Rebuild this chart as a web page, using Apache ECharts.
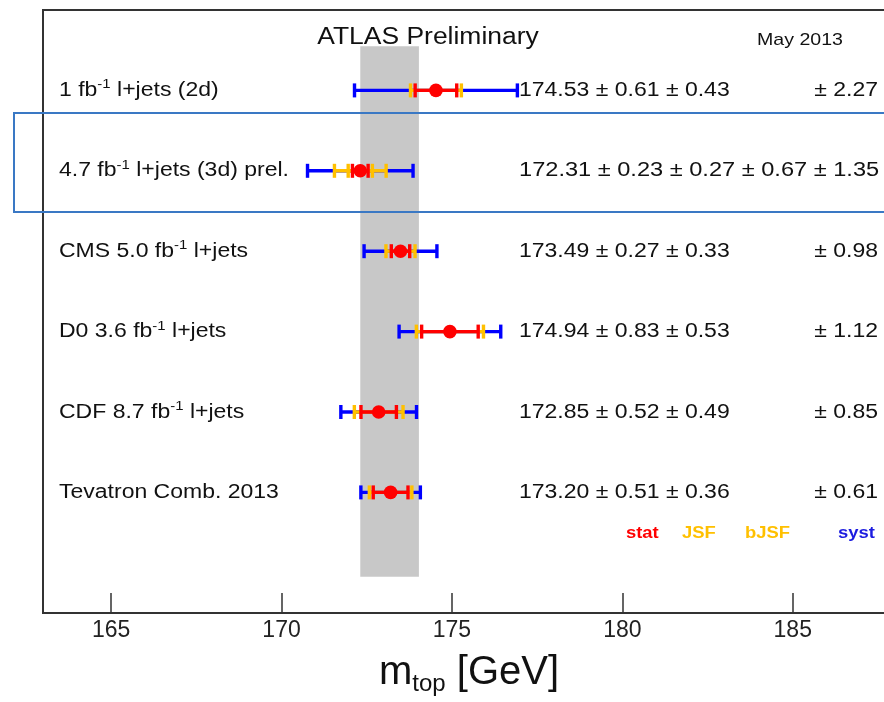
<!DOCTYPE html>
<html><head><meta charset="utf-8">
<script src="https://cdn.jsdelivr.net/npm/echarts@6/dist/echarts.min.js"></script>
<style>html,body{margin:0;padding:0;background:#fff}#c{width:884px;height:702px}</style>
</head><body><div id="c"></div>
<script>
// ---- data ----
const labelPre  = ['1 fb', '4.7 fb', 'CMS 5.0 fb', 'D0 3.6 fb', 'CDF 8.7 fb', 'Tevatron Comb. 2013'];
const labelSup  = ['-1', '-1', '-1', '-1', '-1', ''];
const labelPost = [' l+jets (2d)', ' l+jets (3d) prel.', ' l+jets', ' l+jets', ' l+jets', ''];
const rowPos    = [6.5, 5.5, 4.5, 3.5, 2.5, 1.5];
const mtop      = [174.53, 172.31, 173.49, 174.94, 172.85, 173.20];
const statErr   = [0.61, 0.23, 0.27, 0.83, 0.52, 0.51];
const jsfErr    = [0.43, 0.27, 0.33, 0.53, 0.49, 0.36];
const bjsfErr   = [null, 0.67, null, null, null, null];
const systErr   = [2.27, 1.35, 0.98, 1.12, 0.85, 0.61];
const xTicks    = [165, 170, 175, 180, 185];
const bandX     = [172.31, 174.03];
const bandY     = [0.45, 7.05];
const legendTexts = ['stat', 'JSF', 'bJSF', 'syst'];

const RED = '#ff0000', YEL = '#ffc000', BLUE = '#0000ff';
const FONT = 'Liberation Sans, Arial, sans-serif';
const SX = 1.15;

const chart = echarts.init(document.getElementById('c'), null, {renderer: 'canvas'});

function fmt(v) { return v.toFixed(2); }

function renderRow(params, api) {
  const i = params.dataIndex;
  const c = api.coord([mtop[i], rowPos[i]]);
  const cx = c[0], cy = c[1];
  const unit = api.size([1, 0])[0];
  const s = statErr[i], j = jsfErr[i], b = bjsfErr[i], sy = systErr[i];
  const lv = [{e: s, col: RED}, {e: Math.hypot(s, j), col: YEL}];
  if (b != null) lv.push({e: Math.hypot(s, j, b), col: YEL});
  lv.push({e: Math.hypot(s, j, b || 0, sy), col: BLUE});
  const ch = [];
  const LW = 3.4, CAP = 7;
  for (let k = lv.length - 1; k >= 0; k--) {
    const w = lv[k].e * unit;
    ch.push({type: 'line', shape: {x1: cx - w, y1: cy, x2: cx + w, y2: cy}, style: {stroke: lv[k].col, lineWidth: LW}});
  }
  for (let k = lv.length - 1; k >= 0; k--) {
    const w = lv[k].e * unit;
    [-1, 1].forEach(sg => {
      ch.push({type: 'line', shape: {x1: cx + sg * w, y1: cy - CAP, x2: cx + sg * w, y2: cy + CAP}, style: {stroke: lv[k].col, lineWidth: LW}});
    });
  }
  ch.push({type: 'circle', shape: {cx: cx, cy: cy, r: 6.8}, style: {fill: RED}});
  // label
  let lab = '{a|' + labelPre[i] + '}';
  if (labelSup[i]) lab += '{s|' + labelSup[i] + '}';
  if (labelPost[i]) lab += '{a|' + labelPost[i] + '}';
  ch.push({type: 'text', x: 59, y: cy, scaleX: SX,
    style: {text: lab, x: 0, y: 0, align: 'left', verticalAlign: 'middle', fill: '#111',
      rich: {a: {fontSize: 20, fontFamily: FONT, lineHeight: 24, fill: '#111'},
             s: {fontSize: 13, fontFamily: FONT, lineHeight: 14, verticalAlign: 'top', fill: '#111'}}}});
  // values
  let left = fmt(mtop[i]) + ' \u00b1 ' + fmt(s) + ' \u00b1 ' + fmt(j);
  let right = '';
  if (b != null) left += ' \u00b1 ' + fmt(b) + ' \u00b1 ' + fmt(sy);
  else right = '\u00b1 ' + fmt(sy);
  ch.push({type: 'text', x: 519, y: cy, scaleX: (b != null) ? 1.18 : SX,
    style: {text: left, x: 0, y: 0, align: 'left', verticalAlign: 'middle', fill: '#111', fontSize: 20, fontFamily: FONT}});
  if (right) ch.push({type: 'text', x: 878, y: cy, scaleX: SX,
    style: {text: right, x: 0, y: 0, align: 'right', verticalAlign: 'middle', fill: '#111', fontSize: 20, fontFamily: FONT}});
  return {type: 'group', children: ch};
}

function renderBand(params, api) {
  const p1 = api.coord([bandX[0], bandY[1]]);
  const p2 = api.coord([bandX[1], bandY[0]]);
  return {type: 'rect', shape: {x: p1[0], y: p1[1], width: p2[0] - p1[0], height: p2[1] - p1[1]}, style: {fill: '#c8c8c8'}};
}

const legendX = [626, 682, 745, 838];
const legendCol = [RED, YEL, YEL, '#1c1ce0'];

const option = {
  animation: false,
  backgroundColor: '#fff',
  grid: {left: 43, top: 10, right: -11, bottom: 89, show: true, borderColor: '#333', borderWidth: 2,
         containLabel: false, outerBoundsMode: 'none'},
  xAxis: {
    type: 'value', min: 163, max: 188,
    axisLine: {show: true, lineStyle: {color: '#333', width: 2}},
    axisTick: {show: true, inside: true, length: 20, customValues: xTicks, lineStyle: {color: '#333', width: 1.5}},
    axisLabel: {show: true, customValues: xTicks, fontSize: 23, fontFamily: FONT, color: '#222', margin: 6},
    splitLine: {show: false},
    name: '{m|m}{s|top}{m| [GeV]}',
    nameLocation: 'middle', nameGap: 37,
    nameTextStyle: {rich: {
      m: {fontSize: 40, fontFamily: FONT, color: '#111', lineHeight: 46},
      s: {fontSize: 24, fontFamily: FONT, color: '#111', lineHeight: 1, verticalAlign: 'bottom'}
    }}
  },
  yAxis: {
    type: 'value', min: 0, max: 7.5,
    axisLine: {show: true, lineStyle: {color: '#333', width: 2}},
    axisTick: {show: false}, axisLabel: {show: false}, splitLine: {show: false}
  },
  series: [
    {type: 'custom', renderItem: renderBand, data: [[bandX[0], bandY[0]]], z: 1, silent: true},
    {type: 'custom', renderItem: renderRow, data: rowPos.map((y, i) => [mtop[i], y]), z: 2, silent: true}
  ],
  graphic: [
    {type: 'text', x: 428, y: 38, scaleX: SX, style: {text: 'ATLAS Preliminary', align: 'center', verticalAlign: 'middle', fontSize: 23, fontFamily: FONT, fill: '#111'}},
    {type: 'text', x: 800, y: 40, scaleX: SX, style: {text: 'May 2013', align: 'center', verticalAlign: 'middle', fontSize: 17, fontFamily: FONT, fill: '#111'}},
    {type: 'rect', shape: {x: 14, y: 113, width: 900, height: 99}, style: {fill: 'none', stroke: '#3a78c4', lineWidth: 2}, z: 10},
  ].concat(legendTexts.map((t, k) => ({
    type: 'text', x: legendX[k], y: 534, scaleX: SX,
    style: {text: t, align: 'left', verticalAlign: 'middle', fontSize: 16, fontWeight: 'bold', fontFamily: FONT, fill: legendCol[k]}
  })))
};
chart.setOption(option);
</script>
</body></html>
